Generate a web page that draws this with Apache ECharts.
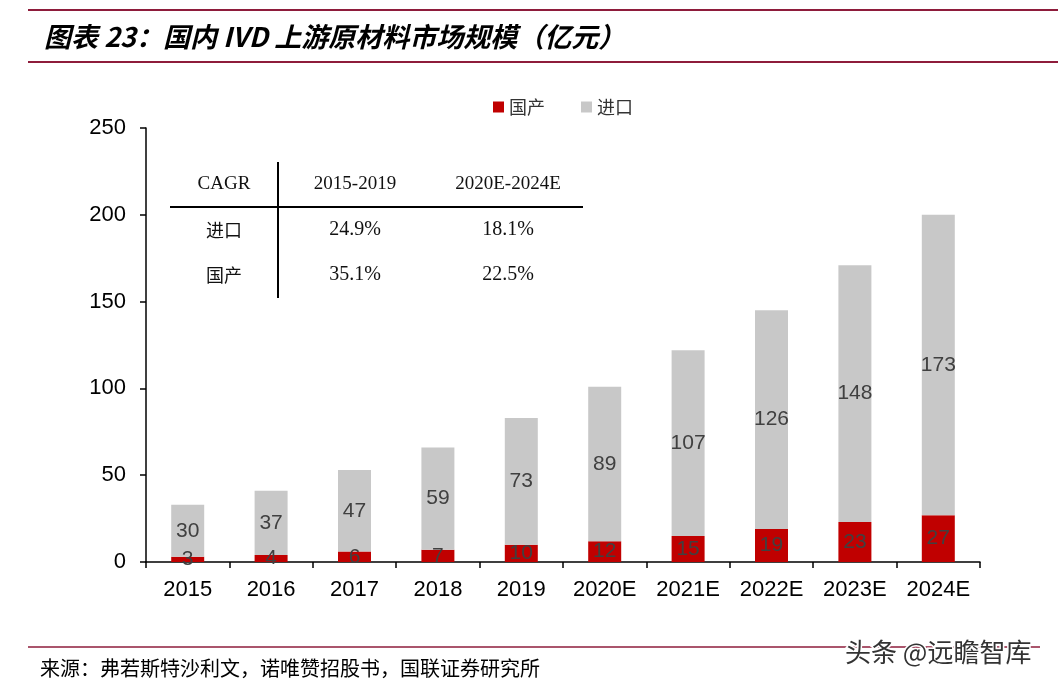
<!DOCTYPE html>
<html><head><meta charset="utf-8">
<script src="https://cdn.jsdelivr.net/npm/echarts@6/dist/echarts.min.js"></script>
<style>html,body{margin:0;padding:0;background:#fff}#c{width:1058px;height:685px}</style>
</head><body><div id="c"></div>
<script>
const categories = ['2015','2016','2017','2018','2019','2020E','2021E','2022E','2023E','2024E'];
const domestic = [3,4,6,7,10,12,15,19,23,27];
const imported = [30,37,47,59,73,89,107,126,148,173];
const yTicks = {min:0, max:250, interval:50};
const cagrHeader = ['CAGR','2015-2019','2020E-2024E'];
const cagrRows = [['进口','24.9%','18.1%'],['国产','35.1%','22.5%']];

const chart = echarts.init(document.getElementById('c'));
const maroon = '#8E1C3B';
const serif = '"Liberation Serif","DejaVu Serif",serif';
const cjk = '"Noto Sans CJK SC",sans-serif';
const sans = '"Liberation Sans",Arial,sans-serif';
const colX = [224, 355, 508];
const rowY = [184, 230, 275];
const tableTexts = [];
cagrHeader.forEach((t,i)=>tableTexts.push({type:'text',style:{text:t,x:colX[i],y:rowY[0],textAlign:'center',textVerticalAlign:'middle',font:'19px '+serif,fill:'#111'}}));
cagrRows.forEach((r,ri)=>r.forEach((t,i)=>tableTexts.push({type:'text',style:{text:t,x:colX[i],y:rowY[ri+1],textAlign:'center',textVerticalAlign:'middle',font:(i===0?'18px '+cjk:'20px '+serif),fill:'#111'}})));

chart.setOption({
  animation:false,
  grid:{left:146,right:78,top:128,bottom:123,containLabel:false},
  legend:{top:93,left:488,itemWidth:11,itemHeight:11,itemGap:36,icon:'rect',
    textStyle:{fontFamily:cjk,fontSize:18,color:'#333'},
    data:['国产','进口']},
  xAxis:{type:'category',data:categories,
    axisLine:{lineStyle:{color:'#000',width:1.5}},
    axisTick:{show:true,length:6,lineStyle:{color:'#000',width:1.5}},
    axisLabel:{color:'#000',fontSize:22,fontFamily:sans,margin:17}},
  yAxis:{type:'value',min:yTicks.min,max:yTicks.max,interval:yTicks.interval,
    splitLine:{show:false},
    axisLine:{show:true,lineStyle:{color:'#000',width:1.5}},
    axisTick:{show:true,length:6,lineStyle:{color:'#000',width:1.5}},
    axisLabel:{color:'#000',fontSize:22,fontFamily:sans,margin:20}},
  series:[
    {name:'国产',type:'bar',stack:'a',data:domestic,barWidth:33,itemStyle:{color:'#C00000'},
      label:{show:true,position:'inside',color:'#404040',fontSize:21,fontFamily:sans}},
    {name:'进口',type:'bar',stack:'a',data:imported,barWidth:33,itemStyle:{color:'#C8C8C8'},
      label:{show:true,position:'inside',color:'#404040',fontSize:21,fontFamily:sans}}
  ],
  graphic:[
    {type:'line',shape:{x1:28,y1:10,x2:1058,y2:10},style:{stroke:maroon,lineWidth:2}},
    {type:'text',style:{text:'图表 23：国内 IVD 上游原材料市场规模（亿元）',x:44,y:37,textVerticalAlign:'middle',font:'italic bold 27px '+cjk,fill:'#000'}},
    {type:'line',shape:{x1:28,y1:62,x2:1058,y2:62},style:{stroke:maroon,lineWidth:2}},
    {type:'line',shape:{x1:170,y1:207,x2:583,y2:207},style:{stroke:'#000',lineWidth:2}},
    {type:'line',shape:{x1:278,y1:162,x2:278,y2:298},style:{stroke:'#000',lineWidth:2}},
    ...tableTexts,
    {type:'line',shape:{x1:28,y1:647,x2:1040,y2:647},style:{stroke:maroon,lineWidth:1.5}},
    {type:'text',style:{text:'来源：弗若斯特沙利文，诺唯赞招股书，国联证券研究所',x:40,y:668,textVerticalAlign:'middle',font:'20px '+cjk,fill:'#000'}},
    {type:'text',style:{text:'头条 @远瞻智库',x:845,y:652,textVerticalAlign:'middle',font:'26px '+cjk,fill:'#333',stroke:'#fff',lineWidth:3}}
  ]
});
</script></body></html>
